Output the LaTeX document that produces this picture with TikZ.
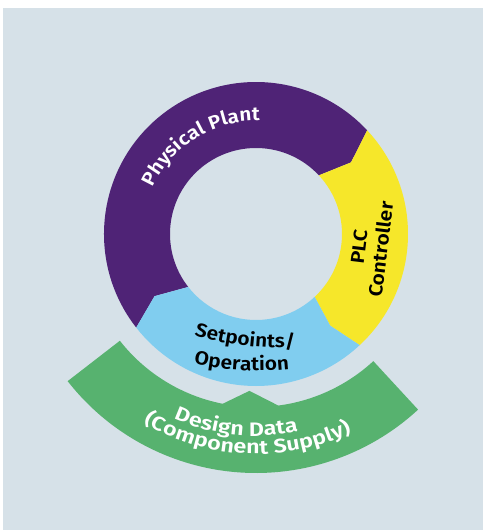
\documentclass[tikz,border=0pt]{standalone}
\usepackage{fontspec}
\setmainfont{Fira Sans}[BoldFont={Fira Sans SemiBold}, BoldFeatures={FakeStretch=1.1}]
\newfontfamily\bandfamily{Fira Sans SemiBold}[FakeStretch=1.2]
\usepackage{tikz}
\usetikzlibrary{decorations.text}
\definecolor{plantpurple}{RGB}{79,35,118}
\definecolor{plcyellow}{RGB}{246,231,42}
\definecolor{setblue}{RGB}{128,205,239}
\definecolor{designgreen}{RGB}{87,178,111}
\definecolor{panelgray}{RGB}{214,225,232}

\newcommand{\labelfont}{\bfseries\fontsize{19}{22}\selectfont}
\newcommand{\bandfont}{\bandfamily\fontsize{19.5}{22}\selectfont}

\begin{document}
\begin{tikzpicture}[x=1pt, y=1pt,
	arclabel/.style n args={3}{decorate, decoration={text along path, text align=center, text color=#1, text={|#2|#3}}}]

	\useasboundingbox (-256,234) rectangle (227,-296);

	% background panel
	\fill[panelgray] (-253,226) rectangle (227,-296);

	% ring segments
	\fill[plantpurple] (218:152pt) arc[start angle=218, end angle=43, radius=152pt] -- (37:119pt) -- (43:86pt)
		arc[start angle=43, end angle=218, radius=86pt] -- (211.5:119pt) -- cycle;
	\fill[plcyellow] (43:152pt) arc[start angle=43, end angle=-47, radius=152pt] -- (-51:118pt) -- (-47:86pt)
		arc[start angle=-47, end angle=43, radius=86pt] -- (37:119pt) -- cycle;
	\fill[setblue] (-47:152pt) arc[start angle=-47, end angle=-142, radius=152pt] -- (211.5:119pt) -- (-142:86pt)
		arc[start angle=-142, end angle=-47, radius=86pt] -- (-51:118pt) -- cycle;

	% design data band
	\fill[designgreen] (-142:239pt) arc[start angle=-142, end angle=-47.3, radius=239pt] -- (-47.3:173pt)
		arc[start angle=-47.3, end angle=-82.6, radius=173pt] -- (-92.4:157pt) -- (-101.1:173pt)
		arc[start angle=-101.1, end angle=-141.9, radius=173pt] -- cycle;

	% labels
	\path[arclabel={white}{\labelfont}{Physical Plant}] (164:113pt) arc[start angle=164, end angle=80, radius=113pt];
	\node[rotate=83, align=center, inner sep=0pt, font=\labelfont] (plc) at (114,-14) {PLC\\Controller};
	\path[arclabel={black}{\labelfont}{Setpoints/}, shift={(25,186)}] (243:300pt) arc[start angle=243, end angle=283, radius=300pt];
	\path[arclabel={black}{\labelfont}{Operation}, shift={(3,163)}] (246.6:300pt) arc[start angle=246.6, end angle=286.6, radius=300pt];
	\path[arclabel={white}{\bandfont}{Design Data}] (-132:202pt) arc[start angle=-132, end angle=-60, radius=202pt];
	\path[arclabel={white}{\bandfont}{(Component Supply)}] (-131:220pt) arc[start angle=-131, end angle=-54, radius=220pt];

\end{tikzpicture}
\end{document}
